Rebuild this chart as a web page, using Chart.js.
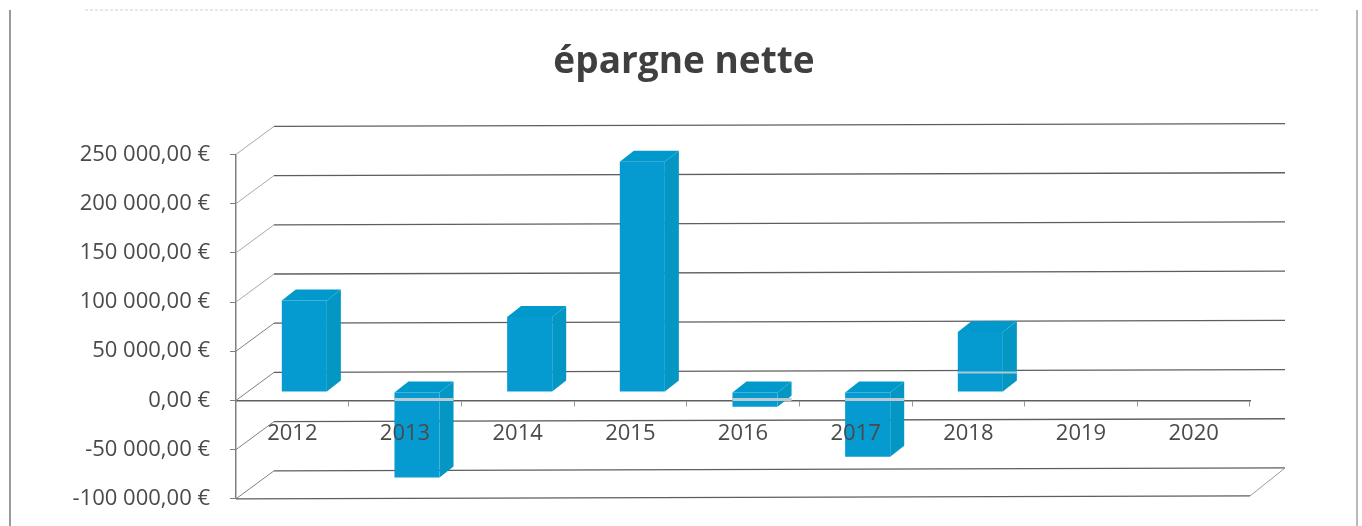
<!DOCTYPE html>
<html>
<head>
<meta charset="utf-8">
<style>
  html, body { margin: 0; background: #fff; height: 526px; overflow: hidden; }
  #box { position: relative; width: 1362px; height: 532px; }
</style>
<script src="https://cdn.jsdelivr.net/npm/chart.js@4"></script>
</head>
<body>
<div id="box"><canvas id="chart"></canvas></div>
<script>
const years = ['2012', '2013', '2014', '2015', '2016', '2017', '2018', '2019', '2020'];
const savings = [93000, -87000, 76000, 234000, -15000, -66000, 61000, null, null];
const yTicks = [-100000, -50000, 0, 50000, 100000, 150000, 200000, 250000];

const titleText = 'épargne nette';
const fontName = '"Open Sans", sans-serif';
const inkColor = '#4a4a4a';
const gridColor = '#5e5e5e';

// depth of the 3D look
const wallDx = 38, wallDy = -28;
const barShiftX = 12, barShiftY = -8.5;
const barDx = 14, barDy = -11;
const tilt = -0.0028;

function formatEuro(v) {
  const abs = Math.abs(v).toString().replace(/\B(?=(\d{3})+$)/g, ' ');
  return (v < 0 ? '-' : '') + abs + ',00 €';
}

function line(ctx, x1, y1, x2, y2, color, width) {
  ctx.strokeStyle = color;
  ctx.lineWidth = width;
  ctx.beginPath();
  ctx.moveTo(x1, y1);
  ctx.lineTo(x2, y2);
  ctx.stroke();
}

function face(ctx, pts, color) {
  ctx.fillStyle = color;
  ctx.beginPath();
  pts.forEach((p, i) => i ? ctx.lineTo(p[0], p[1]) : ctx.moveTo(p[0], p[1]));
  ctx.closePath();
  ctx.fill();
}

const walls = {
  id: 'walls',
  beforeDatasetsDraw(chart) {
    const { ctx, chartArea: a, scales } = chart;
    const y = scales.y;
    const backL = a.left + wallDx, backR = a.right + wallDx - 3;
    ctx.save();
    yTicks.forEach(v => {
      const py = y.getPixelForValue(v);
      line(ctx, a.left, py, backL, py + wallDy, v > 50000 ? '#a8a8a8' : '#808080', 1);
      line(ctx, backL, py + wallDy, backR, py + wallDy + (backR - backL) * tilt, gridColor, 1.3);
    });
    // floor
    const frontEnd = a.bottom + (a.right - a.left) * tilt;
    line(ctx, a.left, a.bottom, a.right, frontEnd, gridColor, 1.3);
    line(ctx, a.right, frontEnd, backR, a.bottom + wallDy + (backR - backL) * tilt, '#9a9a9a', 1);
    // scanned sheet edges
    line(ctx, 10, 10, 10, 526, '#777777', 1.5);
    line(ctx, 1357, 10, 1357, 526, '#8a8a8a', 1.2);
    ctx.setLineDash([3, 2]);
    line(ctx, 85, 10, 1320, 10, '#d0d0d0', 1);
    ctx.restore();
  },
  beforeDatasetDraw(chart, args) {
    const { ctx } = chart;
    ctx.save();
    ctx.translate(barShiftX, barShiftY);
    args.meta.data.forEach((bar, i) => {
      if (savings[i] === null) return;
      const l = bar.x - bar.width / 2, r = bar.x + bar.width / 2;
      const top = Math.min(bar.y, bar.base), bot = Math.max(bar.y, bar.base);
      face(ctx, [[r, top], [r + barDx, top + barDy], [r + barDx, bot + barDy], [r, bot]], '#0597c4');
      face(ctx, [[l, top], [l + barDx, top + barDy], [r + barDx, top + barDy], [r, top]], '#0199cb');
    });
  },
  afterDatasetDraw(chart) {
    chart.ctx.restore();
    // pale streak the axis lines leave across the bars in the scan
    const { ctx, scales } = chart;
    const zero = scales.y.getPixelForValue(0);
    const bars = chart.getDatasetMeta(0).data;
    savings.forEach((v, i) => {
      if (v === null) return;
      const l = bars[i].x - bars[i].width / 2 + barShiftX;
      const r = bars[i].x + bars[i].width / 2 + barShiftX + barDx;
      if (v < 0) line(ctx, l, zero - 1, r, zero - 1, '#bccbd2', 3);
      if (years[i] === '2018') line(ctx, l, zero + wallDy, r, zero + wallDy, '#a9c9d8', 2);
    });
  }
};

new Chart(document.getElementById('chart'), {
  type: 'bar',
  data: {
    labels: years,
    datasets: [{
      data: savings,
      backgroundColor: '#069bd0',
      borderWidth: 0,
      barPercentage: 0.4,
      categoryPercentage: 1,
      clip: false
    }]
  },
  plugins: [walls],
  options: {
    responsive: true,
    maintainAspectRatio: false,
    animation: false,
    layout: { padding: { left: 6, right: 0, top: 0, bottom: 0 } },
    plugins: {
      legend: { display: false },
      tooltip: { enabled: false },
      title: {
        display: true,
        text: titleText,
        color: '#3f3f3f',
        font: { family: fontName, size: 37, weight: 'bold' },
        padding: { top: 40, bottom: 70 }
      }
    },
    scales: {
      x: {
        position: { y: 0 },
        afterFit(scale) { scale.height = 22; },
        border: { display: true, color: gridColor, width: 1.5 },
        grid: { drawOnChartArea: false, color: '#999999', tickLength: 5, offset: true },
        ticks: {
          color: inkColor,
          padding: 15,
          z: 1,
          maxRotation: 0,
          font: { family: fontName, size: 22 }
        }
      },
      y: {
        min: -100000,
        max: 250000,
        afterFit(scale) { scale.width = 230; },
        afterBuildTicks(scale) { scale.ticks = yTicks.map(value => ({ value })); },
        border: { display: true, color: '#808080', width: 1.5 },
        grid: { drawOnChartArea: false, color: '#808080', tickLength: 6 },
        ticks: {
          color: inkColor,
          padding: 20,
          font: { family: fontName, size: 22 },
          callback: formatEuro
        }
      },
      // empty axis, only keeps the plot 112px from the right edge
      side: {
        position: 'right',
        afterFit(scale) { scale.width = 112; },
        border: { display: false },
        grid: { display: false },
        ticks: { display: false }
      }
    }
  }
});
</script>
</body>
</html>
